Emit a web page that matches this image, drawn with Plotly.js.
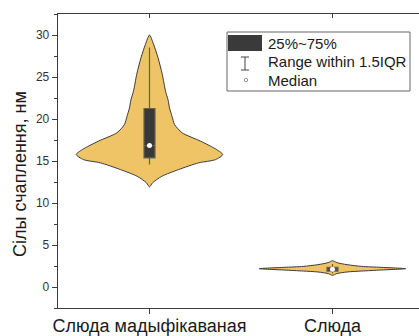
<!DOCTYPE html>
<html>
<head>
<meta charset="utf-8">
<script src="https://cdn.plot.ly/plotly-3.0.1.min.js"></script>
<style>html,body{margin:0;padding:0;overflow:hidden;background:#fff;}#chart{width:430px;height:336px;}</style>
</head>
<body>
<div id="chart"></div>
<script>
// ---- data ----
const categories = ['Слюда мадыфікаваная', 'Слюда'];
const positions = [0, 1];

// violin outline profiles: y values and relative half-widths (0..1)
const violinY1 = [30.0, 28.9, 27.3, 25.3, 23.3, 22.3, 21.3, 20.3, 19.35, 18.36, 17.36, 16.36, 15.77, 15.17, 14.78, 13.98, 13.18, 12.4, 11.92];
const violinW1 = [0, 0.055, 0.116, 0.175, 0.219, 0.253, 0.274, 0.308, 0.342, 0.445, 0.699, 0.918, 1.0, 0.904, 0.671, 0.397, 0.168, 0.041, 0];
const violinY2 = [3.13, 2.9, 2.66, 2.45, 2.34, 2.18, 2.02, 1.9, 1.79, 1.6, 1.39];
const violinW2 = [0, 0.06, 0.2, 0.4, 0.66, 1.0, 0.66, 0.4, 0.2, 0.06, 0];

// box statistics
const q1 = [15.37, 1.9];
const median = [16.84, 2.12];
const q3 = [21.25, 2.33];
const lowerWhisker = [14.58, 1.6];
const upperWhisker = [28.5, 2.75];

const yTickVals = [0, 5, 10, 15, 20, 25, 30];
const legendLabels = ['25%~75%', 'Range within 1.5IQR', 'Median'];
const yTitle = 'Сілы счаплення, нм';

// ---- layout constants ----
const W = 430, H = 336, ML = 58, MR = 6, MT = 14, MB = 28;
const PW = W - ML - MR, PH = H - MT - MB;
const px = x => (x - ML) / PW;
const py = y => (308 - y) / PH;
const halfMax = 0.4;
const font = '"Liberation Sans", Arial, sans-serif';
const violinFill = '#EEC467';

function outline(pos, ys, ws) {
  const xs = [], yy = [];
  for (let i = 0; i < ys.length; i++) { xs.push(pos + ws[i] * halfMax); yy.push(ys[i]); }
  for (let i = ys.length - 2; i >= 1; i--) { xs.push(pos - ws[i] * halfMax); yy.push(ys[i]); }
  xs.push(xs[0]); yy.push(yy[0]);
  return {x: xs, y: yy};
}

const traces = [];
const profiles = [[violinY1, violinW1], [violinY2, violinW2]];
profiles.forEach((p, i) => {
  const o = outline(positions[i], p[0], p[1]);
  traces.push({type: 'scatter', mode: 'lines', x: o.x, y: o.y, fill: 'toself', fillcolor: violinFill,
    line: {color: '#3a3a3a', width: 1, shape: 'spline', smoothing: 0.7}, hoverinfo: 'skip', showlegend: false});
});
// boxes on the overlaying axes so they sit above the violin fills
traces.push({type: 'box', x: positions, q1: q1, median: median, q3: q3, xaxis: 'x2', yaxis: 'y2',
  lowerfence: lowerWhisker, upperfence: upperWhisker, width: 0.06, whiskerwidth: 0,
  fillcolor: '#383838', line: {color: '#6a6048', width: 1.2}, boxpoints: false, showlegend: false});
traces.push({type: 'scatter', mode: 'markers', x: positions, y: median, xaxis: 'x2', yaxis: 'y2',
  marker: {color: '#ffffff', size: 5, line: {width: 0}}, showlegend: false});

const axisColor = '#3c3c3c';
const shapes = [
  {type: 'rect', xref: 'paper', yref: 'paper', x0: px(227), x1: px(410), y0: py(32), y1: py(91), line: {color: '#666', width: 1}, fillcolor: '#fff'},
  {type: 'rect', xref: 'paper', yref: 'paper', x0: px(228), x1: px(262), y0: py(35), y1: py(51), line: {width: 0}, fillcolor: '#3a3a3a'},
  {type: 'line', xref: 'paper', yref: 'paper', x0: px(245), x1: px(245), y0: py(57), y1: py(70), line: {color: '#444', width: 1}},
  {type: 'line', xref: 'paper', yref: 'paper', x0: px(241), x1: px(249), y0: py(57), y1: py(57), line: {color: '#444', width: 1}},
  {type: 'line', xref: 'paper', yref: 'paper', x0: px(241), x1: px(249), y0: py(70), y1: py(70), line: {color: '#444', width: 1}},
  {type: 'circle', xref: 'paper', yref: 'paper', x0: px(244.3), x1: px(247.7), y0: py(78.3), y1: py(81.7), line: {color: '#777', width: 0.8}, fillcolor: '#fff'}
];
const legendY = [43, 62, 80];
const annotations = legendLabels.map((t, i) => ({text: t, xref: 'paper', yref: 'paper', x: px(266), y: py(legendY[i]),
  xanchor: 'left', yanchor: 'middle', showarrow: false, font: {family: font, size: 15, color: '#1a1a1a'}}));
annotations.push({text: yTitle, xref: 'paper', yref: 'paper', x: px(20), y: py(174), textangle: -90,
  xanchor: 'center', yanchor: 'middle', showarrow: false, font: {family: font, size: 18, color: '#1a1a1a'}});

const layout = {
  width: W, height: H, margin: {l: ML, r: MR, t: MT, b: MB}, paper_bgcolor: '#fff', plot_bgcolor: '#fff',
  showlegend: false, font: {family: font},
  xaxis: {range: [-0.5, 1.5], tickvals: positions, ticktext: categories, ticks: 'outside', ticklen: 5, tickcolor: axisColor,
    showline: true, linecolor: axisColor, linewidth: 1.3, showgrid: false, zeroline: false, ticklabelstandoff: -4,
    tickfont: {family: font, size: 18, color: '#1a1a1a'}},
  yaxis: {range: [-2.5, 32.5], tickvals: yTickVals, ticks: 'outside', ticklen: 5, tickcolor: axisColor,
    minor: {tickvals: [-2.5, 2.5, 7.5, 12.5, 17.5, 22.5, 27.5, 32.5], ticks: 'outside', ticklen: 3, tickcolor: axisColor},
    showline: true, linecolor: axisColor, linewidth: 1.3, showgrid: false, zeroline: false,
    tickfont: {family: font, size: 12, color: '#333'}},
  xaxis2: {overlaying: 'x', side: 'top', range: [-0.5, 1.5], tickvals: positions, ticks: 'inside', ticklen: 4, tickcolor: axisColor,
    showticklabels: false, showline: true, linecolor: axisColor, linewidth: 1.3, showgrid: false, zeroline: false},
  yaxis2: {overlaying: 'y', side: 'right', range: [-2.5, 32.5], tickvals: yTickVals, ticks: 'inside', ticklen: 5, tickcolor: axisColor,
    showticklabels: false, showline: true, linecolor: axisColor, linewidth: 1.3, showgrid: false, zeroline: false},
  shapes: shapes, annotations: annotations
};
Plotly.newPlot('chart', traces, layout, {displayModeBar: false, staticPlot: true});
</script>
</body>
</html>
